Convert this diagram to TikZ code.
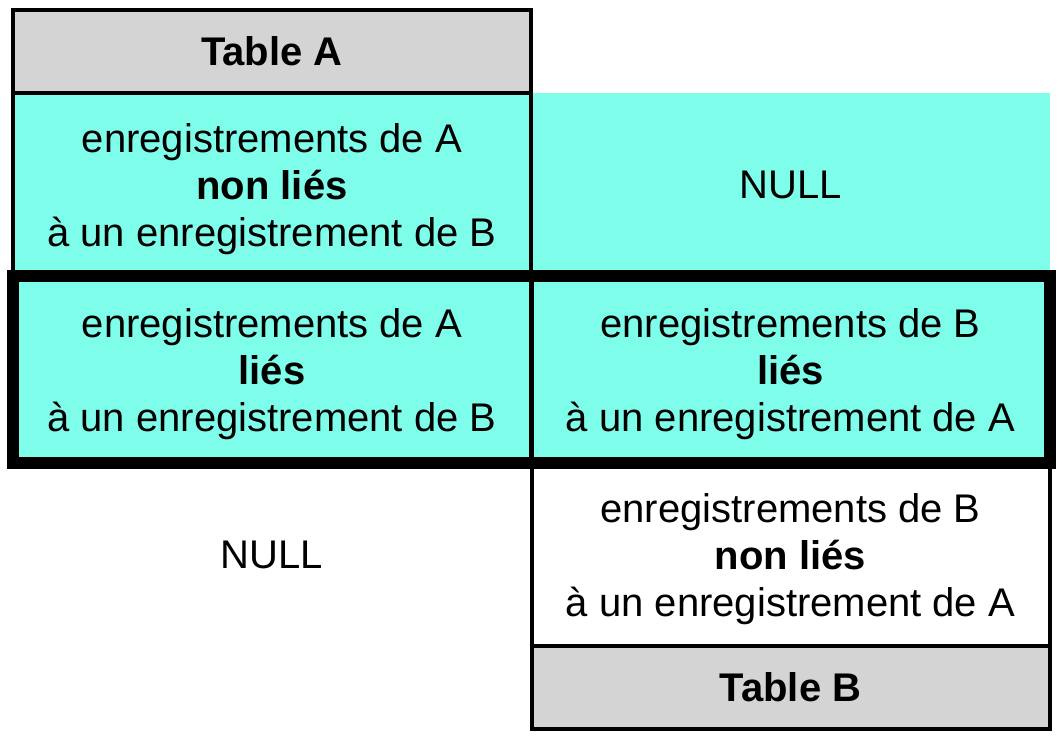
\documentclass[tikz,border=0pt]{standalone}
\usepackage{fontspec}
\setmainfont{Liberation Sans}
\definecolor{rowcyan}{RGB}{125,253,234}
\definecolor{headgray}{RGB}{212,212,212}
% tall strut on the first line of a three-line cell text
\newcommand{\toplinestrut}{\rule{0pt}{39pt}}
\begin{document}
\begin{tikzpicture}[x=1pt,y=-1pt,
  cell/.style={rectangle,inner sep=0pt,outer sep=0pt,align=center,
    font=\fontsize{40}{47}\selectfont,minimum width=518pt},
  tall/.style={cell,minimum height=183pt},
  mid/.style={cell,minimum height=187pt},
  head/.style={cell,minimum height=83pt,fill=headgray,draw,line width=4pt,
    font=\fontsize{40}{47}\selectfont\bfseries},
  thin/.style={draw,line width=4pt},
  cyancell/.style={fill=rowcyan}]
\useasboundingbox (0,0) rectangle (1062,738);

% upper row: unmatched records of A, NULL on the B side
\node[tall,cyancell] (n1) at (790.5,184.5) {NULL};
\node[tall,cyancell,thin] (a1) at (272,184.5)
  {\toplinestrut enregistrements de A\\\textbf{non liés}\\à un enregistrement de B};
\node[head] (tA) at (272,51.5) {Table A};

% middle row: matched records on both sides
\node[mid,cyancell,thin] (a2) at (272,369.5)
  {\toplinestrut enregistrements de A\\\textbf{liés}\\à un enregistrement de B};
\node[mid,cyancell,thin] (b2) at (790.5,369.5)
  {\toplinestrut enregistrements de B\\\textbf{liés}\\à un enregistrement de A};

% lower row: unmatched records of B, NULL on the A side
\node[tall] (n3) at (272,554.5) {NULL};
\node[tall,fill=white,thin] (b3) at (790.5,554.5)
  {\toplinestrut enregistrements de B\\\textbf{non liés}\\à un enregistrement de A};
\node[head] (tB) at (790.5,687.5) {Table B};

% heavy frame around the inner join
\draw[line width=12pt] (a2.north west) rectangle (b2.south east);
\end{tikzpicture}
\end{document}
